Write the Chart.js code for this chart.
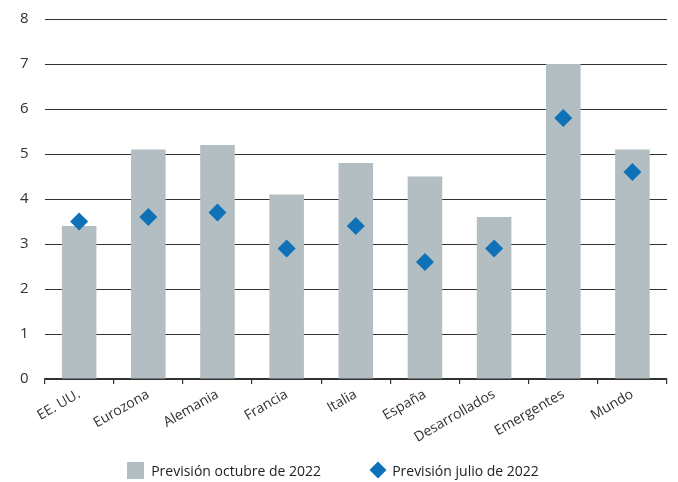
<!DOCTYPE html>
<html>
<head>
<meta charset="utf-8">
<script src="https://cdn.jsdelivr.net/npm/chart.js@4"></script>
<style>
  html, body { margin: 0; padding: 0; background: #fff; }
  #wrap { position: relative; width: 678px; height: 482px; }
  #chartBox { position: absolute; left: 0; top: 0; width: 678px; height: 482px; }
  #legend {
    position: absolute; left: 0; top: 461px; width: 666px; height: 18px; padding-right: 12px;
    display: flex; justify-content: center; align-items: center;
    font-family: 'Open Sans', 'Noto Sans', sans-serif; font-size: 14px; color: #222;
  }
  .item { display: flex; align-items: center; }
  .swatch { width: 17px; height: 17px; margin-right: 7px; }
  .diamond { width: 12px; height: 12px; transform: rotate(45deg); margin: 0 8px 0 3px; }
</style>
</head>
<body>
<div id="wrap">
  <div id="chartBox"><canvas id="myChart"></canvas></div>
  <div id="legend"></div>
</div>
<script>
const categories = ["EE. UU.", "Eurozona", "Alemania", "Francia", "Italia", "España", "Desarrollados", "Emergentes", "Mundo"];
const octubre2022 = [3.4, 5.1, 5.2, 4.1, 4.8, 4.5, 3.6, 7.0, 5.1];
const julio2022 = [3.5, 3.6, 3.7, 2.9, 3.4, 2.6, 2.9, 5.8, 4.6];
const yTicks = [0, 1, 2, 3, 4, 5, 6, 7, 8];

const FONT = "'Open Sans', 'Noto Sans', sans-serif";
const BAR_COLOR = "#b3bec2";
const DIAMOND_COLOR = "#0f71b8";

let canvas = document.getElementById("myChart");

const data = {
  labels: categories,
  datasets: [
    {
      type: "bar",
      label: "Previsión octubre de 2022",
      data: octubre2022,
      backgroundColor: BAR_COLOR,
      borderWidth: 0,
      barPercentage: 0.5,
      categoryPercentage: 1.0,
      order: 2
    },
    {
      type: "line",
      label: "Previsión julio de 2022",
      data: julio2022,
      showLine: false,
      pointStyle: "rectRot",
      pointRadius: 9,
      pointHoverRadius: 9,
      backgroundColor: DIAMOND_COLOR,
      borderColor: DIAMOND_COLOR,
      borderWidth: 0,
      order: 1
    }
  ]
};

const config = {
  data: data,
  options: {
    responsive: true,
    maintainAspectRatio: false,
    animation: false,
    layout: {
      autoPadding: false,
      padding: { top: 19, right: 11, left: 4, bottom: 34 }
    },
    plugins: {
      legend: { display: false },
      tooltip: { enabled: false }
    },
    scales: {
      x: {
        offset: true,
        grid: {
          offset: true,
          drawOnChartArea: false,
          drawTicks: true,
          tickLength: 5,
          tickColor: "#333",
          lineWidth: 1.2
        },
        border: { display: true, color: "#333", width: 1.5 },
        ticks: {
          color: "#333",
          font: { family: FONT, size: 14 },
          minRotation: 30,
          maxRotation: 30,
          padding: 2
        }
      },
      y: {
        min: 0,
        max: 8,
        afterBuildTicks: (axis) => {
          axis.ticks = yTicks.map((v) => ({ value: v }));
        },
        // tick padding is also added above the axis; keep only half a label there
        afterFit: (axis) => {
          axis.paddingTop = 9;
          axis.paddingBottom = 9;
        },
        grid: {
          color: "#333",
          lineWidth: 1,
          drawTicks: false
        },
        border: { display: false },
        ticks: {
          color: "#333",
          font: { family: FONT, size: 15 },
          padding: 16
        }
      }
    }
  }
};

const myChart = new Chart(canvas, config);

// html legend built from the datasets
let legend = document.getElementById("legend");
data.datasets.forEach((ds, idx) => {
  let item = document.createElement("div");
  item.className = "item";
  if (idx > 0) item.style.marginLeft = "48px";
  let mark = document.createElement("span");
  mark.className = ds.type === "bar" ? "swatch" : "diamond";
  mark.style.backgroundColor = ds.backgroundColor;
  let text = document.createElement("span");
  text.textContent = ds.label;
  item.appendChild(mark);
  item.appendChild(text);
  legend.appendChild(item);
});
</script>
</body>
</html>
